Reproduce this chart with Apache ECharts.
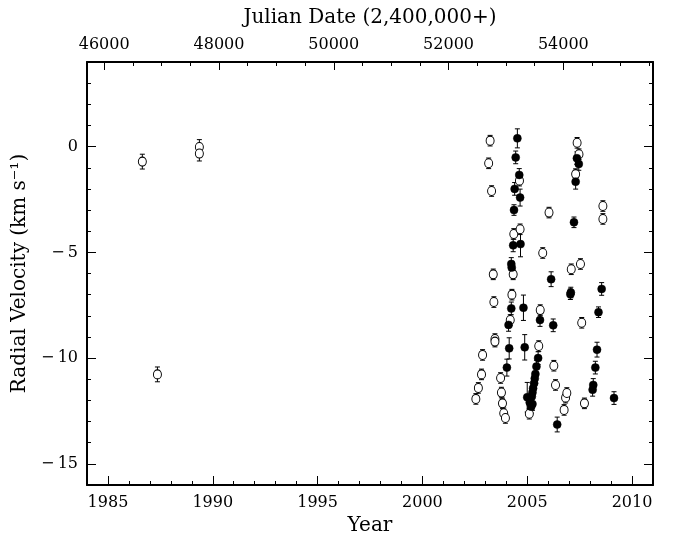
<!DOCTYPE html>
<html>
<head>
<meta charset="utf-8">
<script src="https://cdn.jsdelivr.net/npm/echarts@6/dist/echarts.min.js"></script>
<style>html,body{margin:0;padding:0;background:#fff}#c{width:673px;height:536px}</style>
</head>
<body>
<div id="c"></div>
<script>
// Open circles: year, radial velocity (km/s), error
const openYear = [1986.64, 1987.36, 1989.36, 1989.36,
  2002.55, 2002.67, 2002.82, 2002.87, 2003.16, 2003.23, 2003.30, 2003.38, 2003.41, 2003.46, 2003.46,
  2003.73, 2003.77, 2003.82, 2003.88, 2003.96, 2004.19, 2004.27, 2004.33, 2004.36, 2004.63, 2004.66,
  2005.10, 2005.55, 2005.62, 2005.74, 2006.04, 2006.27, 2006.35, 2006.76, 2006.83, 2006.89, 2007.10,
  2007.31, 2007.38, 2007.47, 2007.54, 2007.60, 2007.73, 2008.61, 2008.61];
const openRV = [-0.71, -10.77, -0.02, -0.33,
  -11.93, -11.41, -10.77, -9.85, -0.79, 0.28, -2.10, -6.04, -7.35, -9.10, -9.22,
  -10.94, -11.63, -12.14, -12.61, -12.83, -8.20, -7.00, -6.04, -4.13, -1.61, -3.91,
  -12.63, -9.43, -7.73, -5.03, -3.12, -10.36, -11.27, -12.45, -11.87, -11.65, -5.80,
  -1.30, 0.18, -0.36, -5.55, -8.33, -12.14, -2.81, -3.42];
const openErr = [0.35, 0.35, 0.35, 0.35,
  0.25, 0.25, 0.25, 0.25, 0.25, 0.25, 0.25, 0.25, 0.25, 0.25, 0.25,
  0.25, 0.25, 0.25, 0.25, 0.25, 0.25, 0.25, 0.25, 0.25, 0.25, 0.25,
  0.25, 0.25, 0.25, 0.25, 0.25, 0.25, 0.25, 0.25, 0.25, 0.25, 0.25,
  0.25, 0.25, 0.25, 0.25, 0.25, 0.25, 0.25, 0.25];

// Filled circles: year, radial velocity (km/s), error
const filledYear = [2004.53, 2004.45, 2004.62, 2004.40, 2004.66, 2004.37, 2004.33, 2004.68, 2004.24, 2004.26,
  2004.24, 2004.82, 2004.11, 2004.14, 2004.88, 2004.03, 2005.00, 2005.12, 2005.19, 2005.25,
  2005.22, 2005.25, 2005.28, 2005.33, 2005.36, 2005.39, 2005.44, 2005.52, 2005.61, 2006.14,
  2006.24, 2006.43, 2007.06, 2007.08, 2007.23, 2007.31, 2007.37, 2007.46, 2008.15, 2008.12,
  2008.25, 2008.33, 2008.40, 2008.55, 2009.14];
const filledRV = [0.39, -0.51, -1.34, -2.00, -2.41, -3.00, -4.67, -4.61, -5.55, -5.72,
  -7.65, -7.62, -8.43, -9.54, -9.49, -10.45, -11.85, -12.10, -12.30, -12.17,
  -11.82, -11.63, -11.43, -11.19, -10.96, -10.75, -10.40, -10.00, -8.20, -6.27,
  -8.45, -13.14, -6.98, -6.90, -3.58, -1.66, -0.55, -0.82, -11.27, -11.50,
  -10.45, -9.60, -7.83, -6.73, -11.89];
const filledErr = [0.45, 0.3, 0.3, 0.3, 0.4, 0.25, 0.3, 0.6, 0.3, 0.3,
  0.3, 0.6, 0.3, 0.5, 0.6, 0.4, 0.7, 0.3, 0.3, 0.3,
  0.3, 0.3, 0.3, 0.3, 0.3, 0.3, 0.3, 0.3, 0.3, 0.35,
  0.3, 0.35, 0.25, 0.25, 0.25, 0.35, 0.3, 0.3, 0.3, 0.3,
  0.3, 0.35, 0.25, 0.3, 0.3];

// Tick definitions
const yearLabels = [1985, 1990, 1995, 2000, 2005, 2010];
const yearMinor = [];
for (let y = 1985; y <= 2010; y++) yearMinor.push(y);
const jdLabels = [46000, 48000, 50000, 52000, 54000];
const jdMinor = [];
for (let j = 46000; j <= 55500; j += 500) jdMinor.push(j);
const rvLabels = [-15, -10, -5, 0];
const rvMinor = [];
for (let v = -16; v <= 4; v++) rvMinor.push(v);

const YEAR_MIN = 1984, YEAR_MAX = 2011;
const JD_MIN = 45700.5, JD_MAX = 55562.5; // JD-2400000 at 1984.0 and 2011.0
const RV_MIN = -16, RV_MAX = 4;

const FONT = 'DejaVu Serif';
const lab = {fontFamily: FONT, fontSize: 16, color: '#000'};
const nameStyle = {fontFamily: FONT, fontSize: 20, color: '#000'};

function rvFmt(v) { return v < 0 ? '\u2212\u2009' + Math.abs(v) : String(v); }
function plainFmt(v) { return String(v); }

function xAx(pos, min, max, opts) {
  return Object.assign({
    type: 'value', position: pos, min: min, max: max,
    splitLine: {show: false},
    axisLine: {show: false, onZero: false},
    axisTick: {show: false},
    axisLabel: {show: false}
  }, opts);
}

const openData = openYear.map((x, i) => [x, openRV[i], openErr[i]]);
const filledData = filledYear.map((x, i) => [x, filledRV[i], filledErr[i]]);

function errRender(params, api) {
  const x = api.value(0), y = api.value(1), e = api.value(2);
  const t = api.coord([x, y + e]);
  const b = api.coord([x, y - e]);
  const w = 2.5;
  const st = {stroke: '#000', lineWidth: 1};
  return {type: 'group', children: [
    {type: 'line', shape: {x1: t[0], y1: t[1], x2: b[0], y2: b[1]}, style: st},
    {type: 'line', shape: {x1: t[0] - w, y1: t[1], x2: t[0] + w, y2: t[1]}, style: st},
    {type: 'line', shape: {x1: b[0] - w, y1: b[1], x2: b[0] + w, y2: b[1]}, style: st}
  ]};
}

const chart = echarts.init(document.getElementById('c'), null, {renderer: 'canvas'});
chart.setOption({
  animation: false,
  backgroundColor: '#fff',
  grid: {left: 87, right: 20, top: 62, bottom: 51, containLabel: false, outerBoundsMode: 'none'},
  xAxis: [
    xAx('bottom', YEAR_MIN, YEAR_MAX, {
      name: 'Year', nameLocation: 'middle', nameGap: 27, nameTextStyle: nameStyle,
      axisLine: {show: true, onZero: false, lineStyle: {color: '#000', width: 2}},
      axisTick: {show: true, inside: true, length: 9, customValues: yearLabels, lineStyle: {color: '#000', width: 1}},
      axisLabel: {show: true, customValues: yearLabels, margin: 10, formatter: plainFmt, ...lab}
    }),
    xAx('bottom', YEAR_MIN, YEAR_MAX, {
      axisTick: {show: true, inside: true, length: 4, customValues: yearMinor, lineStyle: {color: '#000', width: 1}}
    }),
    xAx('top', JD_MIN, JD_MAX, {
      name: 'Julian Date (2,400,000+)', nameLocation: 'middle', nameGap: 34, nameTextStyle: nameStyle,
      axisLine: {show: true, onZero: false, lineStyle: {color: '#000', width: 2}},
      axisTick: {show: true, inside: true, length: 8, customValues: jdLabels, lineStyle: {color: '#000', width: 1}},
      axisLabel: {show: true, customValues: jdLabels, margin: 9, formatter: plainFmt, ...lab}
    }),
    xAx('top', JD_MIN, JD_MAX, {
      axisTick: {show: true, inside: true, length: 4, customValues: jdMinor, lineStyle: {color: '#000', width: 1}}
    })
  ],
  yAxis: [
    xAx('left', RV_MIN, RV_MAX, {
      name: 'Radial Velocity (km s\u207B\u00B9)', nameLocation: 'middle', nameGap: 54, nameRotate: 90, nameTextStyle: nameStyle,
      axisLine: {show: true, onZero: false, lineStyle: {color: '#000', width: 2}},
      axisTick: {show: true, inside: true, length: 9, customValues: rvLabels, lineStyle: {color: '#000', width: 1}},
      axisLabel: {show: true, customValues: rvLabels, margin: 9, formatter: rvFmt, ...lab}
    }),
    xAx('left', RV_MIN, RV_MAX, {
      axisTick: {show: true, inside: true, length: 4, customValues: rvMinor, lineStyle: {color: '#000', width: 1}}
    }),
    xAx('right', RV_MIN, RV_MAX, {
      axisLine: {show: true, onZero: false, lineStyle: {color: '#000', width: 2}},
      axisTick: {show: true, inside: true, length: 9, customValues: rvLabels, lineStyle: {color: '#000', width: 1}}
    }),
    xAx('right', RV_MIN, RV_MAX, {
      axisTick: {show: true, inside: true, length: 4, customValues: rvMinor, lineStyle: {color: '#000', width: 1}}
    })
  ],
  series: [
    {type: 'custom', name: 'openErr', xAxisIndex: 0, yAxisIndex: 0, data: openData,
      encode: {x: 0, y: 1}, renderItem: errRender, z: 1, silent: true},
    {type: 'custom', name: 'filledErr', xAxisIndex: 0, yAxisIndex: 0, data: filledData,
      encode: {x: 0, y: 1}, renderItem: errRender, z: 1, silent: true},
    {type: 'scatter', name: 'open', xAxisIndex: 0, yAxisIndex: 0, data: openData,
      symbol: 'circle', symbolSize: [8, 9], z: 3,
      itemStyle: {color: '#fff', borderColor: '#000', borderWidth: 1, opacity: 1}},
    {type: 'scatter', name: 'filled', xAxisIndex: 0, yAxisIndex: 0, data: filledData,
      symbol: 'circle', symbolSize: 8, z: 4,
      itemStyle: {color: '#000', borderColor: '#000', borderWidth: 0.5, opacity: 1}}
  ]
});
</script>
</body>
</html>
